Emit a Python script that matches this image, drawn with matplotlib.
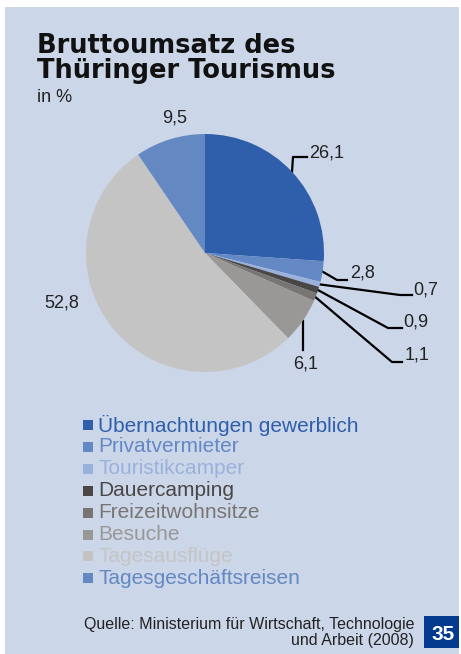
import numpy as np
import matplotlib.pyplot as plt
from matplotlib.patches import Rectangle

categories = ['Übernachtungen gewerblich', 'Privatvermieter', 'Touristikcamper',
              'Dauercamping', 'Freizeitwohnsitze', 'Besuche', 'Tagesausflüge',
              'Tagesgeschäftsreisen']
values = [26.1, 2.8, 0.7, 0.9, 1.1, 6.1, 52.8, 9.5]
value_labels = ['26,1', '2,8', '0,7', '0,9', '1,1', '6,1', '52,8', '9,5']
colors = ['#2f5faa', '#6388c4', '#9ab2db', '#4a4646', '#787573', '#9a9896',
          '#c4c4c4', '#6488c2']

W, H = 461, 654
BG = '#cbd6e9'
CX, CY, R = 205, 253, 119   # pie centre / radius in pixels
FONT = 'Liberation Sans'


def main():
    fig = plt.figure(figsize=(W / 100, H / 100), dpi=100)
    fig.patch.set_facecolor('white')

    # pixel-space overlay
    ax0 = fig.add_axes([0, 0, 1, 1])
    ax0.set_xlim(0, W)
    ax0.set_ylim(H, 0)
    ax0.axis('off')
    ax0.add_patch(Rectangle((5, 7), W - 7, H - 7, facecolor=BG, edgecolor='none'))

    # pie
    axp = fig.add_axes([(CX - R) / W, (H - CY - R) / H, 2 * R / W, 2 * R / H])
    axp.pie(values, colors=colors, startangle=90, counterclock=False, radius=1,
            wedgeprops=dict(linewidth=0))
    axp.set_xlim(-1, 1)
    axp.set_ylim(-1, 1)
    axp.patch.set_visible(False)

    # anchors on the rim at slice mid-angles
    cum = np.cumsum(values) - np.array(values) / 2
    theta = np.deg2rad(cum / sum(values) * 360)
    ax_px = CX + R * np.sin(theta)
    ay_px = CY - R * np.cos(theta)

    lab = dict(fontsize=13, color='#222222', family=FONT)
    lw = 1.6
    # 26,1
    ax0.plot([ax_px[0], ax_px[0] + 1, 307], [ay_px[0], 157, 157], color='black', lw=lw)
    ax0.text(309, 153, value_labels[0], ha='left', va='center', **lab)
    # 2,8
    ax0.plot([ax_px[1], 337, 347], [ay_px[1], 280, 280], color='black', lw=lw)
    ax0.text(350, 273, value_labels[1], ha='left', va='center', **lab)
    # 0,7
    ax0.plot([ax_px[2], 400, 412], [ay_px[2], 295, 295], color='black', lw=lw)
    ax0.text(413, 290, value_labels[2], ha='left', va='center', **lab)
    # 0,9
    ax0.plot([ax_px[3], 388, 402], [ay_px[3], 328, 328], color='black', lw=lw)
    ax0.text(403, 322, value_labels[3], ha='left', va='center', **lab)
    # 1,1
    ax0.plot([ax_px[4], 392, 402], [ay_px[4], 362, 362], color='black', lw=lw)
    ax0.text(405, 355, value_labels[4], ha='left', va='center', **lab)
    # 6,1
    ax0.plot([ax_px[5], ax_px[5]], [ay_px[5], 350], color='black', lw=lw)
    ax0.text(306, 364, value_labels[5], ha='center', va='center', **lab)
    # 52,8 and 9,5
    ax0.text(62, 303, value_labels[6], ha='center', va='center', **lab)
    ax0.text(175, 118, value_labels[7], ha='center', va='center', **lab)

    # title
    ax0.text(37, 53, 'Bruttoumsatz des', fontsize=18.5, fontweight='heavy',
             family='DejaVu Sans', color='#111111', va='baseline')
    ax0.text(37, 78, 'Thüringer Tourismus', fontsize=18.5, fontweight='heavy',
             family='DejaVu Sans', color='#111111', va='baseline')
    ax0.text(37, 102, 'in %', fontsize=13, family=FONT, color='#222222', va='baseline')

    # legend
    for i, (name, c) in enumerate(zip(categories, colors)):
        y = 425 + i * 21.9
        ax0.add_patch(Rectangle((83, y - 5), 10, 10, facecolor=c, edgecolor='none'))
        ax0.text(98, y, name, fontsize=15, family=FONT, color=c, va='center', ha='left')

    # source
    ax0.text(414, 625, 'Quelle: Ministerium für Wirtschaft, Technologie',
             fontsize=11.5, family=FONT, color='#222222', ha='right', va='center')
    ax0.text(414, 641, 'und Arbeit (2008)',
             fontsize=11.5, family=FONT, color='#222222', ha='right', va='center')

    # page number
    ax0.add_patch(Rectangle((424, 616), 35, 32, facecolor='#033a8e', edgecolor='none'))
    ax0.text(443, 634.5, '35', fontsize=15, fontweight='bold', family=FONT,
             color='white', ha='center', va='center')

    fig.savefig('out.png', dpi=100, facecolor=fig.get_facecolor())


if __name__ == '__main__':
    main()
